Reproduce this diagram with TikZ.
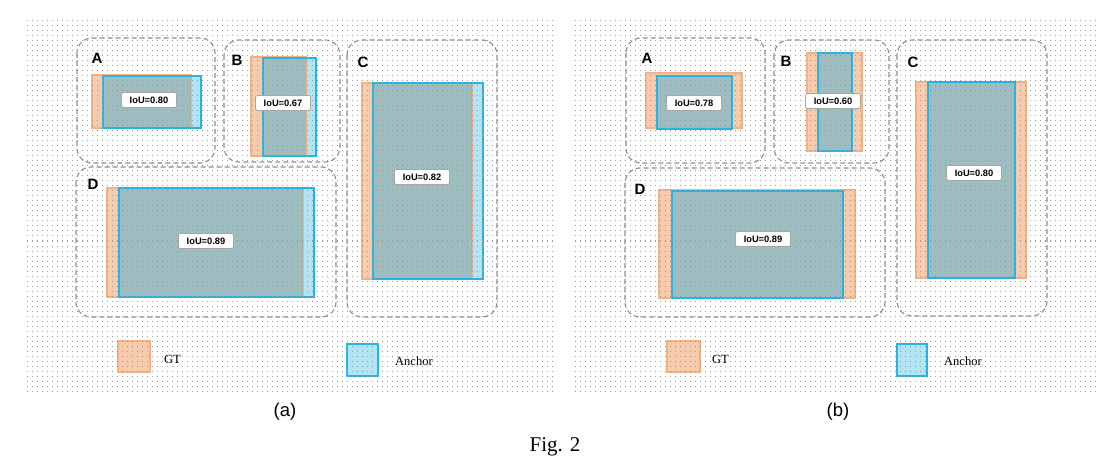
\documentclass[tikz,border=0pt]{standalone}
\usepackage{fontspec}
\setmainfont{Liberation Serif}
\newfontfamily\arialf{Liberation Sans}
\definecolor{gtfill}{RGB}{248,203,173}
\definecolor{gtdraw}{RGB}{244,177,131}
\definecolor{anfill}{RGB}{178,228,246}
\definecolor{andraw}{RGB}{38,180,230}
\definecolor{ovfill}{RGB}{152,176,176}
\definecolor{dashgray}{RGB}{140,140,140}
\definecolor{dotgray}{RGB}{155,155,155}
\tikzset{
  regbox/.style={draw=dashgray, line width=1.1pt, dash pattern=on 5pt off 3pt, rounded corners=15pt},
  dotline/.style={draw=dotgray, line width=1pt, dash pattern=on 1pt off 4pt},
  ioubox/.style={fill=white, draw=black!35, line width=0.8pt, rounded corners=2pt,
     minimum width=55pt, minimum height=15pt, inner sep=1pt,
     font=\arialf\bfseries\fontsize{9.3}{10}\selectfont},
  lbl/.style={inner sep=0pt, font=\arialf\bfseries\fontsize{15}{17}\selectfont},
  legtext/.style={inner sep=0pt, font=\fontsize{12.5}{14}\selectfont},
  captext/.style={inner sep=0pt, font=\arialf\fontsize{18.5}{20}\selectfont},
  gtleg/.style={fill=gtfill, draw=gtdraw, line width=1.5pt},
  anleg/.style={fill=anfill, draw=andraw, line width=1.5pt}
}
\newcommand\ioupair[8]{%
  \fill[gtfill] (#1,#2) rectangle (#3,#4);
  \fill[anfill] (#5,#6) rectangle (#7,#8);
  \draw[gtdraw, line width=1.5pt] (#1,#2) rectangle (#3,#4);
  \pgfmathsetmacro\myox{max(#1,#5)}%
  \pgfmathsetmacro\myoy{max(#2,#6)}%
  \pgfmathsetmacro\myoX{min(#3,#7)}%
  \pgfmathsetmacro\myoY{min(#4,#8)}%
  \fill[ovfill, opacity=0.75] (\myox,\myoy) rectangle (\myoX,\myoY);
  \draw[andraw, line width=1.5pt] (#5,#6) rectangle (#7,#8);
}
\begin{document}
\begin{tikzpicture}[x=1pt, y=-1pt]
\useasboundingbox (0,0) rectangle (1099,470);
\fill[white] (0,0) rectangle (1099,470);

% ---------- panel (a) ----------
\ioupair{92}{75}{191}{128}{103}{76}{201}{128}
\ioupair{251}{57}{306}{156}{263}{58}{316}{156}
\ioupair{362}{83}{472}{279}{373}{83}{483}{279}
\ioupair{107}{188}{303}{297}{119}{188}{314}{297}
\draw[regbox] (77,38) rectangle (215,163);
\draw[regbox] (224,40) rectangle (340,162);
\draw[regbox] (347,40) rectangle (497,317);
\draw[regbox] (76,167) rectangle (336,317);
\draw[gtleg] (118,341) rectangle (150,372);
\draw[anleg] (347,344) rectangle (378,376);

% ---------- panel (b) ----------
\ioupair{646}{73}{742}{128}{657}{76}{732}{129}
\ioupair{807}{53}{862}{151}{818}{53}{852}{151}
\ioupair{916}{82}{1026}{278}{928}{82}{1015}{278}
\ioupair{659}{190}{855}{298}{672}{191}{843}{298}
\draw[regbox] (626,38) rectangle (765,163);
\draw[regbox] (774,40) rectangle (889,163);
\draw[regbox] (897,40) rectangle (1047,316);
\draw[regbox] (625,168) rectangle (885,317);
\draw[gtleg] (667,341) rectangle (700,372);
\draw[anleg] (897,344) rectangle (927,376);

% ---------- dot grids ----------
\foreach \yy in {21,26,...,392} {
  \draw[dotline] (27,\yy) -- (553,\yy);
  \draw[dotline] (575,\yy) -- (1098,\yy);
}

% ---------- labels (a) ----------
\node[lbl] (aA) at (97,58) {A};
\node[lbl] (aB) at (237,60) {B};
\node[lbl] (aC) at (363,62) {C};
\node[lbl] (aD) at (93,184) {D};
\node[ioubox] (aiA) at (149,100) {IoU=0.80};
\node[ioubox] (aiB) at (283,103) {IoU=0.67};
\node[ioubox] (aiC) at (422,177) {IoU=0.82};
\node[ioubox] (aiD) at (206,241) {IoU=0.89};
\node[legtext, anchor=west] (aGT) at (164,359) {GT};
\node[legtext, anchor=west] (aAn) at (395,361) {Anchor};
\node[captext] (capa) at (285,412) {(a)};

% ---------- labels (b) ----------
\node[lbl] (bA) at (647,58) {A};
\node[lbl] (bB) at (786,61) {B};
\node[lbl] (bC) at (913,62) {C};
\node[lbl] (bD) at (640,189) {D};
\node[ioubox] (biA) at (694,103) {IoU=0.78};
\node[ioubox] (biB) at (833,101) {IoU=0.60};
\node[ioubox] (biC) at (974,173) {IoU=0.80};
\node[ioubox] (biD) at (763,239) {IoU=0.89};
\node[legtext, anchor=west] (bGT) at (712,359) {GT};
\node[legtext, anchor=west] (bAn) at (944,361) {Anchor};
\node[captext] (capb) at (838,412) {(b)};

\node[inner sep=0pt, font=\fontsize{21}{24}\selectfont] (fig) at (555,447) {Fig. 2};
\end{tikzpicture}
\end{document}
